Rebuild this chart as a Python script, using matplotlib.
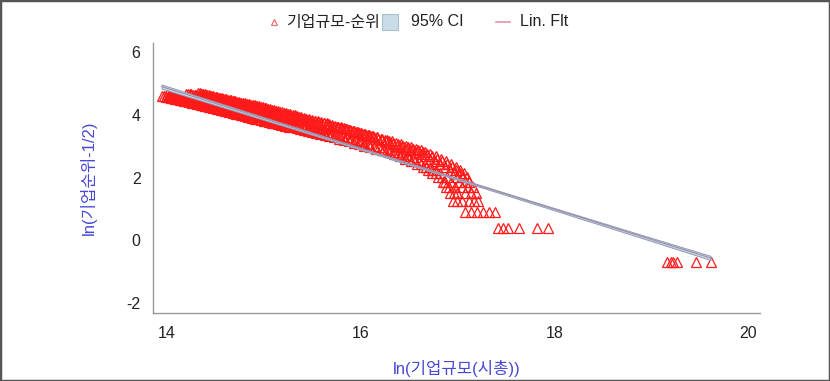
import numpy as np
import matplotlib
matplotlib.use('Agg')
import matplotlib.pyplot as plt
from matplotlib.lines import Line2D
from matplotlib.patches import Rectangle

# firm size ln(market cap) by rank 1..N, one list per year group
size_g1 = [19.16, 17.42, 17.08, 16.95, 16.92, 16.88, 16.85, 16.80, 16.74, 16.70,
           16.64, 16.58, 16.52, 16.46, 16.41, 16.35, 16.29, 16.23, 16.16, 16.10,
           16.04, 15.98, 15.93, 15.88, 15.83, 15.78, 15.73, 15.68, 15.63, 15.58,
           15.54, 15.50, 15.46, 15.42, 15.38, 15.34, 15.30, 15.26, 15.22, 15.18,
           15.15, 15.12, 15.09, 15.06, 15.03, 15.00, 14.97, 14.94, 14.91, 14.88,
           14.86, 14.84, 14.81, 14.79, 14.77, 14.75, 14.72, 14.70, 14.68, 14.66,
           14.64, 14.62, 14.60, 14.58, 14.56, 14.54, 14.52, 14.50, 14.48, 14.46,
           14.44, 14.42, 14.40, 14.38, 14.37, 14.35, 14.33, 14.31, 14.30, 14.28,
           14.26, 14.25, 14.23, 14.21, 14.20, 14.18, 14.17, 14.15, 14.14, 14.12,
           14.11, 14.09, 14.08, 14.06, 14.05, 14.03, 14.01, 13.99, 13.97, 13.95]
size_g2 = [19.22, 17.47, 17.14, 17.00, 16.96, 16.91, 16.87, 16.84, 16.78, 16.74,
           16.68, 16.62, 16.56, 16.50, 16.45, 16.39, 16.33, 16.27, 16.21, 16.15,
           16.09, 16.04, 15.99, 15.94, 15.89, 15.84, 15.79, 15.74, 15.70, 15.66,
           15.62, 15.58, 15.54, 15.50, 15.46, 15.42, 15.38, 15.35, 15.32, 15.29,
           15.26, 15.23, 15.20, 15.17, 15.14, 15.11, 15.08, 15.05, 15.02, 15.00,
           14.97, 14.95, 14.93, 14.90, 14.88, 14.86, 14.84, 14.82, 14.80, 14.78,
           14.76, 14.74, 14.72, 14.70, 14.68, 14.66, 14.64, 14.62, 14.60, 14.58,
           14.57, 14.55, 14.53, 14.51, 14.50, 14.48, 14.46, 14.45, 14.43, 14.41,
           14.40, 14.38, 14.37, 14.35, 14.34, 14.32, 14.31, 14.29, 14.28, 14.26,
           14.25, 14.23, 14.22, 14.20, 14.19, 14.17, 14.15, 14.14, 14.12, 14.10,
           14.08, 14.06, 14.04, 14.02, 14.00]
size_g3 = [19.26, 17.52, 17.20, 17.05, 17.00, 16.97, 16.93, 16.89, 16.82, 16.78,
           16.72, 16.66, 16.60, 16.54, 16.48, 16.42, 16.36, 16.30, 16.24, 16.19,
           16.14, 16.09, 16.04, 15.99, 15.94, 15.90, 15.86, 15.82, 15.78, 15.74,
           15.70, 15.66, 15.62, 15.58, 15.54, 15.50, 15.46, 15.43, 15.40, 15.37,
           15.34, 15.31, 15.28, 15.25, 15.22, 15.19, 15.16, 15.13, 15.10, 15.07,
           15.04, 15.01, 14.98, 14.96, 14.94, 14.92, 14.90, 14.88, 14.86, 14.84,
           14.82, 14.80, 14.78, 14.76, 14.74, 14.72, 14.70, 14.68, 14.66, 14.64,
           14.62, 14.60, 14.58, 14.56, 14.54, 14.52, 14.50, 14.48, 14.46, 14.44,
           14.42, 14.40, 14.38, 14.36, 14.34, 14.32, 14.30, 14.28, 14.26, 14.24,
           14.22, 14.20, 14.18, 14.16, 14.14, 14.12, 14.10, 14.08, 14.06, 14.04]
size_g4 = [19.46, 17.63, 17.26, 17.12, 17.08, 17.05, 17.02, 17.00, 16.96, 16.92,
           16.87, 16.82, 16.77, 16.72, 16.67, 16.62, 16.57, 16.52, 16.47, 16.42,
           16.38, 16.34, 16.30, 16.26, 16.22, 16.18, 16.14, 16.10, 16.06, 16.02,
           15.98, 15.95, 15.92, 15.89, 15.86, 15.83, 15.80, 15.77, 15.74, 15.71,
           15.68, 15.65, 15.62, 15.59, 15.56, 15.53, 15.50, 15.47, 15.44, 15.42,
           15.39, 15.37, 15.34, 15.32, 15.30, 15.27, 15.25, 15.23, 15.21, 15.19,
           15.17, 15.15, 15.13, 15.11, 15.09, 15.07, 15.05, 15.03, 15.01, 14.99,
           14.97, 14.95, 14.93, 14.91, 14.89, 14.87, 14.85, 14.83, 14.81, 14.79,
           14.77, 14.75, 14.73, 14.71, 14.70, 14.68, 14.66, 14.65, 14.63, 14.61,
           14.60, 14.58, 14.57, 14.55, 14.54, 14.52, 14.51, 14.49, 14.48, 14.46,
           14.45, 14.44, 14.42, 14.41, 14.40, 14.38, 14.37, 14.36, 14.34, 14.32]
size_g5 = [19.61, 17.82, 17.33, 17.17, 17.14, 17.11, 17.08, 17.06, 17.03, 16.99,
           16.94, 16.89, 16.84, 16.79, 16.74, 16.69, 16.64, 16.59, 16.54, 16.49,
           16.44, 16.39, 16.34, 16.29, 16.25, 16.21, 16.17, 16.13, 16.09, 16.05,
           16.01, 15.97, 15.93, 15.89, 15.85, 15.81, 15.77, 15.74, 15.71, 15.68,
           15.65, 15.62, 15.59, 15.56, 15.53, 15.50, 15.47, 15.44, 15.41, 15.38,
           15.35, 15.32, 15.30, 15.27, 15.25, 15.22, 15.20, 15.17, 15.15, 15.13,
           15.11, 15.09, 15.07, 15.05, 15.03, 15.01, 14.99, 14.97, 14.95, 14.93,
           14.91, 14.89, 14.87, 14.85, 14.83, 14.81, 14.79, 14.77, 14.75, 14.73,
           14.71, 14.70, 14.68, 14.66, 14.65, 14.63, 14.61, 14.60, 14.58, 14.56,
           14.55, 14.53, 14.52, 14.50, 14.49, 14.47, 14.45, 14.43, 14.41, 14.39]
size_g6 = [19.20, 17.93, 17.39, 17.21, 17.19, 17.16, 17.12, 17.10, 17.07, 17.03,
           16.98, 16.93, 16.88, 16.83, 16.78, 16.72, 16.67, 16.62, 16.57, 16.52,
           16.47, 16.42, 16.37, 16.32, 16.27, 16.22, 16.17, 16.12, 16.08, 16.04,
           16.00, 15.96, 15.92, 15.88, 15.84, 15.80, 15.76, 15.72, 15.68, 15.64,
           15.60, 15.57, 15.54, 15.51, 15.48, 15.45, 15.42, 15.39, 15.36, 15.33,
           15.30, 15.27, 15.25, 15.22, 15.20, 15.17, 15.15, 15.12, 15.10, 15.08,
           15.06, 15.04, 15.02, 15.00, 14.98, 14.96, 14.94, 14.92, 14.90, 14.88,
           14.86, 14.84, 14.82, 14.80, 14.78, 14.76, 14.74, 14.72, 14.70, 14.68,
           14.66, 14.64, 14.62, 14.61, 14.59, 14.57, 14.55, 14.54, 14.52, 14.50,
           14.49, 14.47, 14.45, 14.44, 14.42, 14.40, 14.39, 14.37, 14.35, 14.34,
           14.32, 14.30, 14.29, 14.27, 14.25, 14.24, 14.22, 14.20]
groups = [size_g1, size_g2, size_g3, size_g4, size_g5, size_g6]

# linear fit: ln(rank-1/2) = a + b * ln(size)
fit_intercept = 18.36
fit_slope = -0.965
ci_half_mid = 0.03
ci_half_end = 0.065

x_ticks = [14, 16, 18, 20]
y_ticks = [-2, 0, 2, 4, 6]
legend_labels = ['기업규모-순위', '95% CI', 'Lin. Flt']
x_label = 'ln(기업규모(시총))'
y_label = 'ln(기업순위-1/2)'

fonts = ['Liberation Sans', 'Noto Sans CJK KR', 'DejaVu Sans']
plt.rcParams['font.family'] = fonts
plt.rcParams['axes.unicode_minus'] = False

W, H = 830, 381
fig = plt.figure(figsize=(W / 100, H / 100), dpi=100)
ax = fig.add_axes([153 / W, 1 - 313 / H, (760 - 153) / W, (313 - 43) / H])

# scatter of rank vs size
for g in groups:
    xs = np.array(g)
    rank = np.arange(1, len(g) + 1)
    ys = np.log(rank - 0.5)
    ax.plot(xs, ys, linestyle='none', marker='^', ms=7, mfc='none',
            mec='#ff1a1a', mew=0.9, zorder=2)

# fitted line + CI band
all_x = np.concatenate([np.array(g) for g in groups])
xf = np.linspace(all_x.min(), all_x.max(), 100)
yf = fit_intercept + fit_slope * xf
t = (xf - xf.mean()) / (xf.max() - xf.mean())
half = ci_half_mid + (ci_half_end - ci_half_mid) * t ** 2
ax.fill_between(xf, yf - half, yf + half, facecolor='#c9dce8',
                edgecolor='#8a9ab8', lw=0.7, zorder=3)
ax.plot(xf, yf, color='#a48aa2', lw=0.8, zorder=4)

ax.set_xlim(13.86, 20.12)
ax.set_ylim(-2.32, 6.29)
ax.set_xticks(x_ticks)
ax.set_yticks(y_ticks)
ax.tick_params(length=0, labelsize=11.5, colors='#222222')
ax.tick_params(axis='x', pad=9)
ax.tick_params(axis='y', pad=9)
for s in ['top', 'right']:
    ax.spines[s].set_visible(False)
for s in ['left', 'bottom']:
    ax.spines[s].set_color('#999999')
    ax.spines[s].set_linewidth(1.0)

ax.set_xlabel(x_label, fontsize=12, color='#4848d4')
ax.set_ylabel(y_label, fontsize=12, color='#4848d4')
ax.xaxis.set_label_coords(0.5, -0.175)
ax.yaxis.set_label_coords(-0.092, 0.5)

# legend drawn by hand: entries packed unevenly, patch sits right after first label
ly = 1 - 22 / H
renderer = fig.canvas.get_renderer()
x0 = 274
fig.add_artist(Line2D([x0 / W], [ly], transform=fig.transFigure, marker='^',
                      ms=5, mfc='none', mec='#ee7070', mew=0.9, linestyle='none'))
t1 = fig.text((x0 + 12) / W, ly, legend_labels[0], fontsize=11.5, va='center', ha='left', color='#222222')
x1 = t1.get_window_extent(renderer).x1 + 2
fig.add_artist(Rectangle((x1 / W, 1 - 30 / H), 16 / W, 16 / H, transform=fig.transFigure,
                         facecolor='#c9dce8', edgecolor='#a8c0d4', lw=0.8))
t2 = fig.text((x1 + 29) / W, ly, legend_labels[1], fontsize=11.5, va='center', ha='left', color='#222222')
x2 = t2.get_window_extent(renderer).x1 + 32
fig.add_artist(Line2D([x2 / W, (x2 + 14) / W], [ly, ly], transform=fig.transFigure,
                      color='#e493a8', lw=1.2))
fig.text((x2 + 24) / W, ly, legend_labels[2], fontsize=11.5, va='center', ha='left', color='#222222')

# outer frame of the picture
fig.add_artist(Rectangle((0, 0), 1, 1, transform=fig.transFigure, fill=False,
                         edgecolor='#555555', lw=2.5))

fig.savefig('out.png', dpi=100)
